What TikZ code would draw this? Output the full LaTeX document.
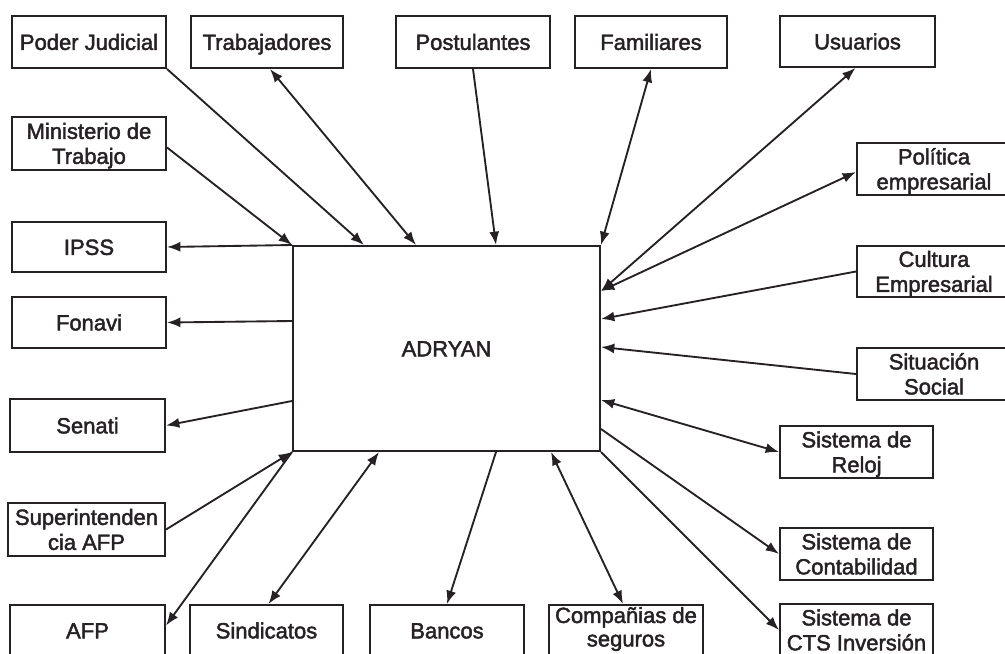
\documentclass[tikz,border=0pt]{standalone}
\usepackage{fontspec}
\setmainfont{Liberation Sans}
\newfontfamily\labfont{Liberation Sans}[FakeBold=2]
\usetikzlibrary{arrows.meta,calc}
\definecolor{ink}{RGB}{38,33,36}
\tikzset{
  box/.style={draw=ink, line width=1.5pt, fill=white, inner sep=0pt, align=center,
    text=ink, font=\labfont\fontsize{16.5}{18.75}\selectfont,
    text height=11.8pt, text depth=0pt},
  two/.style={text height=30.55pt},
  tight/.style={font=\labfont\fontsize{16.5}{17.6}\selectfont, text height=29.4pt, text depth=7pt},
  conn/.style={draw=ink, line width=1.4pt},
  arr/.style={conn, -{Latex[length=10pt,width=7.5pt]}},
  darr/.style={conn, {Latex[length=10pt,width=7.5pt]}-{Latex[length=10pt,width=7.5pt]}},
}
\newcommand\bx[7][]{\node[box, #1, minimum width={(#5-#3)*0.75pt}, minimum height={(#6-#4)*0.75pt}] (#2) at ({(#3+#5)/2},{(#4+#6)/2}) {#7};}
\begin{document}
\begin{tikzpicture}[x=0.75pt,y=-0.75pt]
\useasboundingbox (0,0) rectangle (1005,653);
\clip (0,0) rectangle (1005,653);
% central
\bx{ad}{293}{246}{600}{451}{ADRYAN}
% top row
\bx{pj}{12}{16}{166}{68}{Poder Judicial}
\bx{tr}{191}{16}{343}{68}{Trabajadores}
\bx{po}{396}{16}{550}{68}{Postulantes}
\bx{fa}{575}{16}{727}{68}{Familiares}
\bx{us}{780}{16}{935}{67}{Usuarios}
% left column
\bx[two]{mi}{12}{117}{166}{170}{Ministerio de\\Trabajo}
\bx{ip}{12}{222}{166}{272}{IPSS}
\bx{fo}{12}{297}{166}{348}{Fonavi}
\bx{se}{10}{399}{165}{452}{Senati}
\bx[two]{su}{8}{503}{165}{556}{Superintenden\\cia AFP}
% bottom row
\bx{afp}{10}{605}{165}{656}{AFP}
\bx{sn}{190}{605}{343}{656}{Sindicatos}
\bx{ba}{370}{605}{524}{656}{Bancos}
\bx[tight]{cs}{549}{605}{703}{658}{Compañias de\\seguros}
% right column
\bx[two]{pe}{857}{143}{1011}{195}{Política\\empresarial}
\bx[two]{cu}{857}{246}{1011}{297}{Cultura\\Empresarial}
\bx[two]{si}{857}{348}{1011}{400}{Situación\\Social}
\bx[two]{re}{780}{426}{933}{478}{Sistema de\\Reloj}
\bx[two]{co}{780}{528}{933}{580}{Sistema de\\Contabilidad}
\bx[two]{cts}{780}{604}{933}{656}{Sistema de\\CTS Inversión}
% connectors: top
\draw[arr] (pj.south east) -- ($(ad.north west)+(72,0)$);
\draw[darr] ($(tr.south)+(3,0)$) -- ($(ad.north west)+(124,0)$);
\draw[arr] (po.south) -- ($(ad.north west)+(204,0)$);
\draw[darr] (fa.south) -- (ad.north east);
\draw[darr] ($(us.south)+(-2,0)$) -- ($(ad.north east)+(0,46)$);
% right
\draw[darr] ($(pe.west)+(0,3)$) -- ($(ad.north east)+(0,46)$);
\draw[arr] (cu.west) -- ($(ad.north east)+(0,74)$);
\draw[arr] (si.west) -- ($(ad.north east)+(0,102)$);
\draw[darr] ($(ad.north east)+(0,155)$) -- (re.west);
\draw[arr] ($(ad.south east)+(0,-23)$) -- (co.west);
\draw[arr] (ad.south east) -- (cts.west);
% bottom
\draw[darr] ($(ad.south west)+(259,0)$) -- ($(cs.north)+(-3,0)$);
\draw[arr] ($(ad.south west)+(204,0)$) -- (ba.north);
\draw[darr] ($(ad.south west)+(87,0)$) -- ($(sn.north)+(2,0)$);
\draw[arr] (ad.south west) -- ($(afp.east)+(0,-5)$);
\draw[arr] (su.east) -- (ad.south west);
% left
\draw[arr] ($(ad.south west)+(0,-51)$) -- (se.east);
\draw[arr] ($(ad.north west)+(0,76)$) -- (fo.east);
\draw[arr] (ad.north west) -- (ip.east);
\draw[arr] ($(mi.east)+(0,4)$) -- (ad.north west);
\end{tikzpicture}
\end{document}
